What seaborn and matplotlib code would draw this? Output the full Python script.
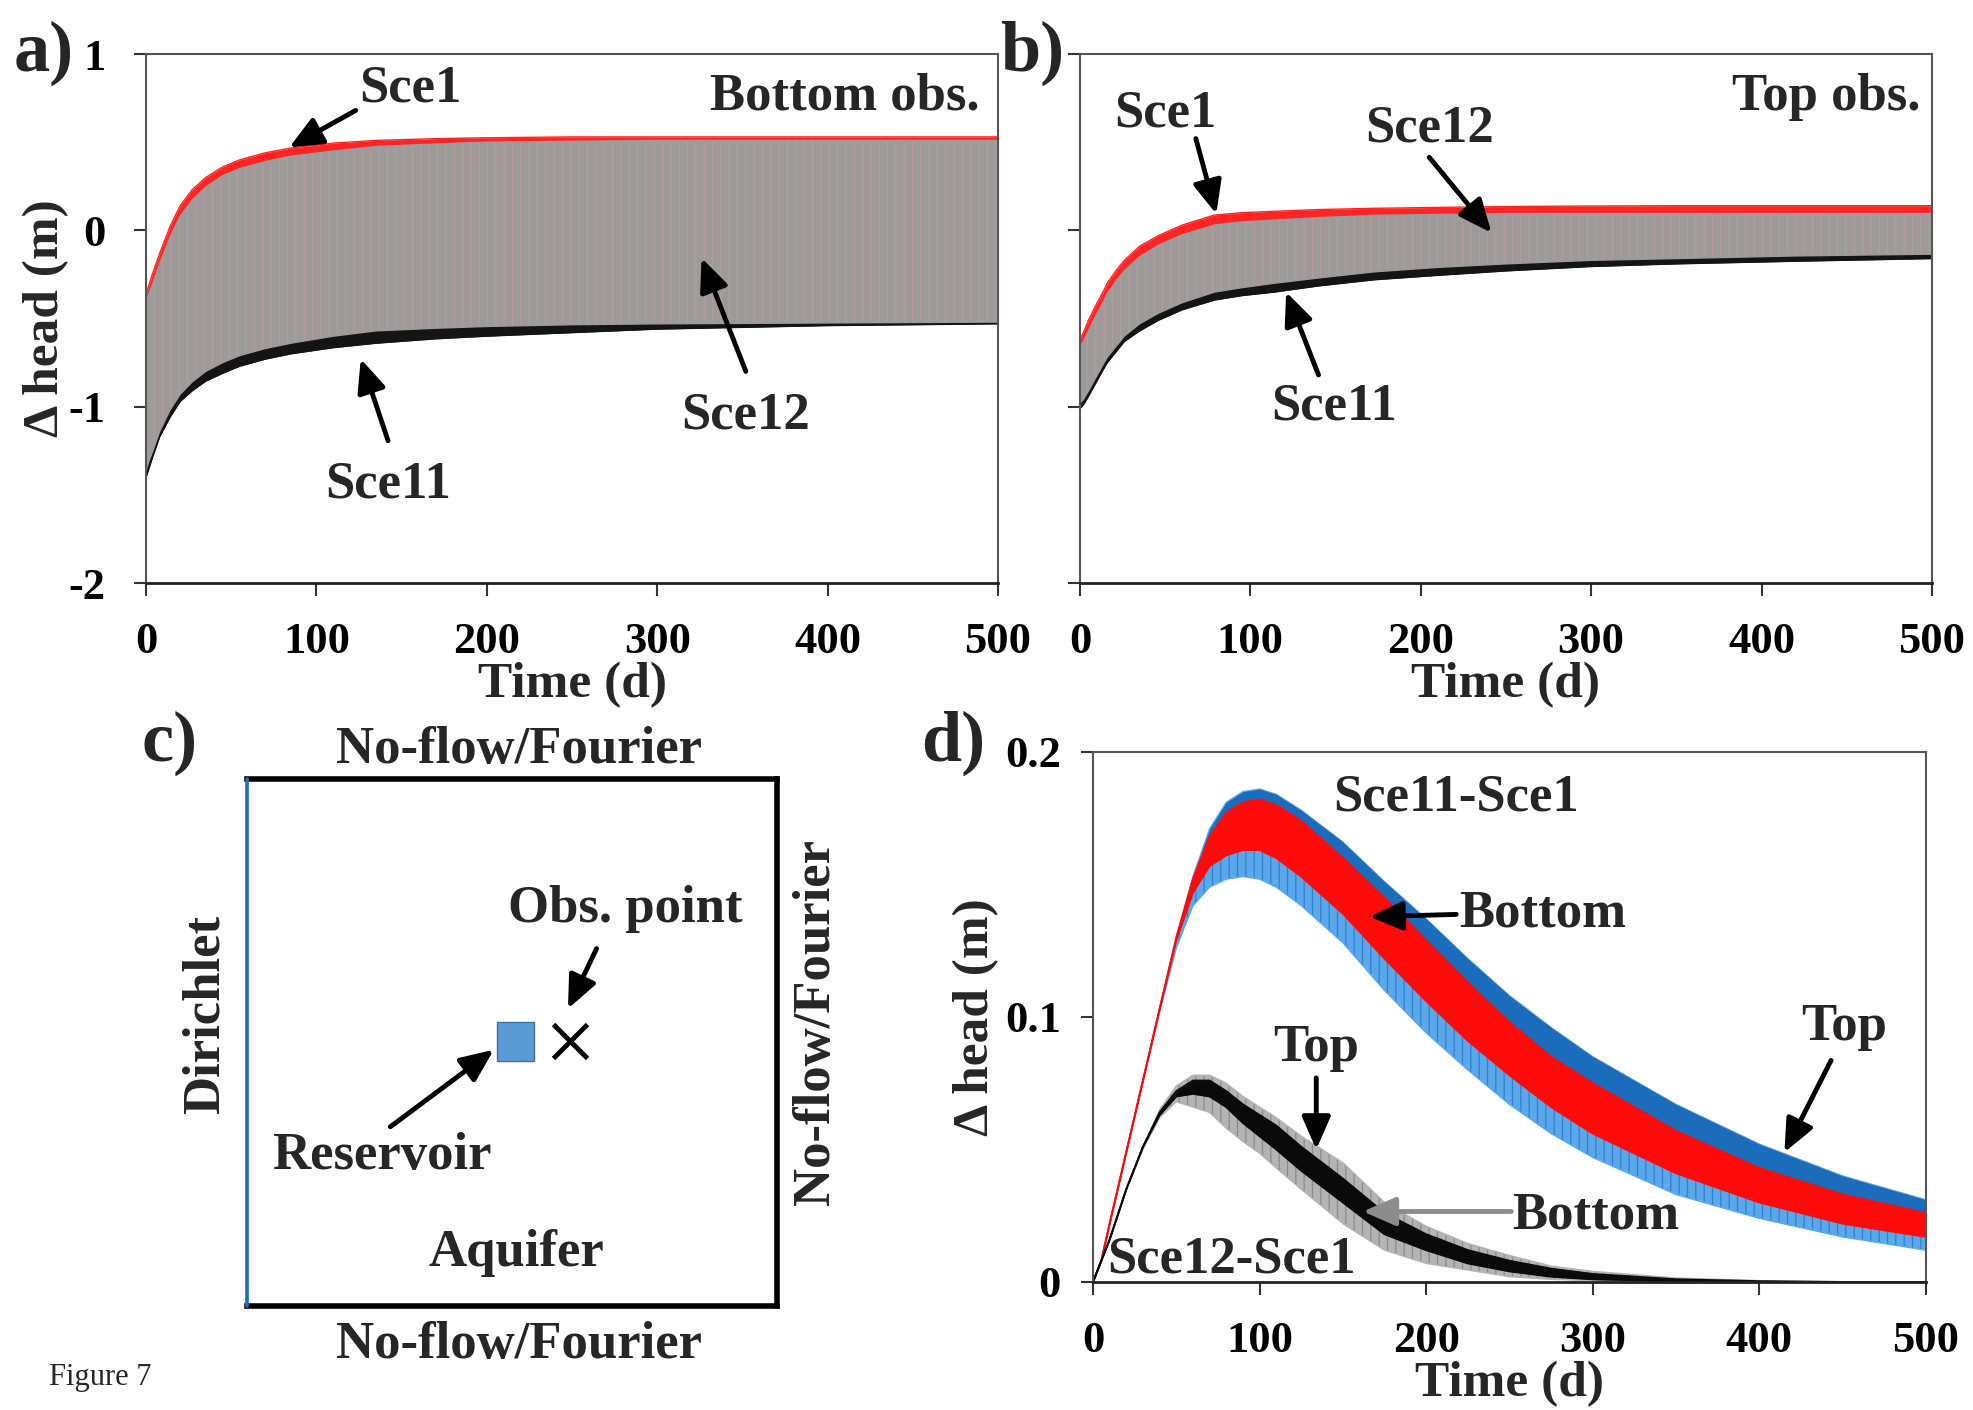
import matplotlib
matplotlib.use('Agg')
import matplotlib.pyplot as plt
from matplotlib.patches import Rectangle
import seaborn as sns

# ---- panel a : bottom observation point, envelopes of head change (m)
t_a = [0, 2, 4, 8, 14, 20, 27, 35, 45, 55, 70, 85, 110, 135, 170, 200, 250, 300, 400, 500]
a_sce1_hi = [-0.36, -0.30, -0.24, -0.13, 0.02, 0.14, 0.23, 0.30, 0.36, 0.40, 0.44, 0.467, 0.495, 0.51, 0.52, 0.525, 0.53, 0.53, 0.53, 0.53]
a_sce1_lo = [-1.34, -1.28, -1.23, -1.12, -1.00, -0.91, -0.84, -0.78, -0.73, -0.69, -0.65, -0.62, -0.58, -0.55, -0.535, -0.525, -0.515, -0.51, -0.505, -0.50]
a_sce11_hi = [-0.42, -0.37, -0.32, -0.21, -0.06, 0.06, 0.15, 0.225, 0.29, 0.33, 0.37, 0.40, 0.43, 0.455, 0.47, 0.48, 0.485, 0.49, 0.49, 0.49]
a_sce11_lo = [-1.40, -1.34, -1.28, -1.17, -1.06, -0.97, -0.91, -0.855, -0.81, -0.77, -0.73, -0.70, -0.665, -0.64, -0.615, -0.60, -0.58, -0.56, -0.54, -0.53]
a_sce12_hi = [-0.40, -0.35, -0.30, -0.19, -0.04, 0.08, 0.17, 0.245, 0.31, 0.35, 0.39, 0.42, 0.45, 0.475, 0.49, 0.50, 0.505, 0.51, 0.51, 0.51]
a_sce12_lo = [-1.36, -1.30, -1.25, -1.14, -1.02, -0.93, -0.86, -0.80, -0.75, -0.71, -0.67, -0.64, -0.60, -0.57, -0.555, -0.545, -0.535, -0.53, -0.525, -0.52]

# ---- panel b : top observation point
t_b = [0, 2, 5, 9, 13, 16, 21, 26, 35, 46, 60, 79, 95, 114, 140, 173, 210, 250, 300, 350, 420, 500]
b_sce1_hi = [-0.62, -0.58, -0.51, -0.43, -0.36, -0.30, -0.23, -0.17, -0.09, -0.03, 0.03, 0.087, 0.10, 0.108, 0.118, 0.125, 0.13, 0.135, 0.138, 0.14, 0.14, 0.14]
b_sce1_lo = [-0.96, -0.94, -0.89, -0.82, -0.75, -0.70, -0.64, -0.58, -0.51, -0.45, -0.39, -0.33, -0.305, -0.28, -0.25, -0.215, -0.19, -0.17, -0.15, -0.14, -0.125, -0.115]
b_sce11_hi = [-0.68, -0.65, -0.59, -0.51, -0.44, -0.38, -0.31, -0.25, -0.17, -0.105, -0.045, 0.01, 0.028, 0.038, 0.052, 0.065, 0.07, 0.075, 0.075, 0.075, 0.075, 0.075]
b_sce11_lo = [-1.01, -0.99, -0.94, -0.87, -0.80, -0.75, -0.69, -0.63, -0.57, -0.51, -0.45, -0.395, -0.37, -0.35, -0.315, -0.28, -0.255, -0.23, -0.205, -0.19, -0.175, -0.16]
b_sce12_hi = [-0.66, -0.63, -0.57, -0.49, -0.42, -0.36, -0.29, -0.23, -0.15, -0.085, -0.025, 0.03, 0.048, 0.058, 0.072, 0.085, 0.09, 0.095, 0.095, 0.095, 0.095, 0.095]
b_sce12_lo = [-0.98, -0.96, -0.91, -0.84, -0.77, -0.72, -0.66, -0.60, -0.53, -0.47, -0.41, -0.35, -0.325, -0.30, -0.27, -0.235, -0.21, -0.19, -0.17, -0.16, -0.145, -0.135]

# ---- panel d : head differences (m)
t_d = [0, 5, 10, 20, 30, 40, 50, 60, 70, 80, 90, 100, 110, 125, 150, 175, 200, 225, 250, 275, 300, 350, 400, 450, 500]
d11_top_hi = [0, 0.008, 0.022, 0.049, 0.076, 0.103, 0.130, 0.153, 0.171, 0.181, 0.185, 0.186, 0.184, 0.178, 0.166, 0.151, 0.137, 0.122, 0.108, 0.096, 0.085, 0.067, 0.052, 0.040, 0.031]
d11_top_lo = [0, 0.008, 0.022, 0.049, 0.076, 0.102, 0.126, 0.142, 0.149, 0.152, 0.153, 0.152, 0.149, 0.142, 0.128, 0.110, 0.094, 0.080, 0.067, 0.056, 0.047, 0.033, 0.024, 0.017, 0.012]
d11_bot_hi = [0, 0.008, 0.022, 0.049, 0.076, 0.103, 0.130, 0.152, 0.168, 0.177, 0.181, 0.182, 0.180, 0.174, 0.160, 0.145, 0.129, 0.113, 0.098, 0.085, 0.075, 0.057, 0.043, 0.033, 0.026]
d11_bot_lo = [0, 0.008, 0.022, 0.049, 0.076, 0.103, 0.129, 0.147, 0.157, 0.161, 0.163, 0.163, 0.160, 0.153, 0.139, 0.122, 0.106, 0.091, 0.078, 0.066, 0.056, 0.041, 0.030, 0.022, 0.017]
d12_top_hi = [0, 0.008, 0.016, 0.035, 0.051, 0.064, 0.072, 0.076, 0.076, 0.072, 0.067, 0.063, 0.059, 0.051, 0.039, 0.026, 0.018, 0.012, 0.008, 0.005, 0.003, 0.001, 0.0003, 0, 0]
d12_top_lo = [0, 0.008, 0.016, 0.035, 0.051, 0.063, 0.070, 0.071, 0.070, 0.066, 0.060, 0.055, 0.050, 0.042, 0.030, 0.018, 0.012, 0.007, 0.004, 0.002, 0.001, 0.0003, 0, 0, 0]
d12_bot_hi = [0, 0.008, 0.016, 0.035, 0.051, 0.065, 0.074, 0.078, 0.078, 0.075, 0.070, 0.066, 0.062, 0.055, 0.045, 0.030, 0.021, 0.0145, 0.010, 0.006, 0.004, 0.0015, 0.0005, 0, 0]
d12_bot_lo = [0, 0.008, 0.016, 0.035, 0.050, 0.062, 0.068, 0.066, 0.064, 0.058, 0.053, 0.0486, 0.043, 0.035, 0.022, 0.012, 0.007, 0.0045, 0.002, 0.001, 0.0005, 0, 0, 0, 0]

x_ticks = [0, 100, 200, 300, 400, 500]

sns.set_theme(style='ticks')
plt.rcParams['font.family'] = ['Liberation Serif', 'DejaVu Serif']
plt.rcParams['font.weight'] = 'bold'
plt.rcParams['axes.labelweight'] = 'bold'
plt.rcParams['axes.unicode_minus'] = False
plt.rcParams['hatch.linewidth'] = 0.9

TICK = 32
LAB = 37
ANN = 38
ARROW = dict(arrowstyle='-|>,head_length=0.8,head_width=0.35', mutation_scale=25,
             lw=3.5, color='black', shrinkA=0, shrinkB=0)


def band(ax, t, hi, lo, color, z=1, lw=1.0, hatch=None, hcolor=None, edges=True):
    ax.fill_between(t, lo, hi, facecolor=color, edgecolor=hcolor or color,
                    hatch=hatch, lw=0, zorder=z)
    if edges:
        for y in (hi, lo):
            sns.lineplot(x=t, y=y, ax=ax, color=color, lw=lw,
                         estimator=None, sort=False, legend=False, zorder=z)


def style(ax):
    for s in ax.spines.values():
        s.set_color('#555555')
        s.set_linewidth(1.5)
        s.set_zorder(20)
    ax.spines['bottom'].set_color('#222222')
    ax.spines['bottom'].set_linewidth(2)
    ax.tick_params(direction='out', length=9, width=1.5, colors='#333333',
                   labelcolor='black', labelsize=TICK)
    ax.tick_params(axis='x', pad=19)
    ax.tick_params(axis='y', pad=20)
    ax.set_xlim(0, 500)
    ax.set_xticks(x_ticks)
    ax.set_xticklabels([str(v) for v in x_ticks])
    ax.set_xlabel('Time (d)', fontsize=LAB, labelpad=0)
    ax.grid(False)


def arrow(ax, tail, tip, color='black'):
    props = dict(ARROW)
    props['color'] = color
    ax.annotate('', xy=tip, xytext=tail, arrowprops=props, zorder=10)


def head_panel(ax, t, s1, s11, s12):
    band(ax, t, s11[0], s11[1], '#141414', z=1)
    band(ax, t, s1[0], s1[1], '#ff2424', z=2)
    band(ax, t, s12[0], s12[1], '#9d9a9a', z=3, hatch='||', hcolor='#b89c9c')


fig = plt.figure(figsize=(19.74, 14.10), dpi=100)

# ---------------- a)
ax_a = fig.add_axes([0.074, 0.5865, 0.4316, 0.3752])
head_panel(ax_a, t_a, (a_sce1_hi, a_sce1_lo), (a_sce11_hi, a_sce11_lo), (a_sce12_hi, a_sce12_lo))
style(ax_a)
ax_a.set_ylim(-2, 1)
ax_a.set_yticks([-2, -1, 0, 1])
ax_a.set_yticklabels(['-2', '-1', '0', '1'])
ax_a.set_ylabel('\u0394 head (m)', fontsize=LAB, labelpad=0)
ax_a.text(489, 0.757, 'Bottom obs.', fontsize=ANN, ha='right', va='center')
ax_a.text(155, 0.807, 'Sce1', fontsize=ANN, ha='center', va='center')
arrow(ax_a, (123, 0.68), (84, 0.47))
ax_a.text(352, -1.05, 'Sce12', fontsize=ANN, ha='center', va='center')
arrow(ax_a, (352, -0.80), (326, -0.157))
ax_a.text(142, -1.443, 'Sce11', fontsize=ANN, ha='center', va='center')
arrow(ax_a, (142, -1.193), (126, -0.729))

# ---------------- b)
ax_b = fig.add_axes([0.5471, 0.5865, 0.4316, 0.3752])
head_panel(ax_b, t_b, (b_sce1_hi, b_sce1_lo), (b_sce11_hi, b_sce11_lo), (b_sce12_hi, b_sce12_lo))
style(ax_b)
ax_b.set_ylim(-2, 1)
ax_b.set_yticks([-2, -1, 0, 1])
ax_b.set_yticklabels([])
ax_b.text(493, 0.757, 'Top obs.', fontsize=ANN, ha='right', va='center')
ax_b.text(50, 0.664, 'Sce1', fontsize=ANN, ha='center', va='center')
arrow(ax_b, (68, 0.52), (80, 0.093))
ax_b.text(205, 0.579, 'Sce12', fontsize=ANN, ha='center', va='center')
arrow(ax_b, (205, 0.414), (241.5, -0.014))
ax_b.text(149, -1.0, 'Sce11', fontsize=ANN, ha='center', va='center')
arrow(ax_b, (140, -0.82), (121, -0.35))

# ---------------- d)
ax_d = fig.add_axes([0.5537, 0.0908, 0.422, 0.3759])
band(ax_d, t_d, d11_top_hi, d11_top_lo, '#5aa8ea', z=1, hatch='||', hcolor='#2f7fd0')
ax_d.fill_between(t_d, d11_bot_hi, d11_top_hi, color='#1c6cbc', lw=0, zorder=1.5)
band(ax_d, t_d, d11_bot_hi, d11_bot_lo, '#ff0a0a', z=2, lw=1.4)
band(ax_d, t_d, d12_bot_hi, d12_bot_lo, '#b4b4b4', z=3, hatch='||', hcolor='#8a8a8a')
band(ax_d, t_d, d12_top_hi, d12_top_lo, '#0a0a0a', z=4, lw=1.4)
style(ax_d)
ax_d.set_ylim(0, 0.2)
ax_d.set_yticks([0, 0.1, 0.2])
ax_d.set_yticklabels(['0', '0.1', '0.2'])
ax_d.tick_params(axis='y', pad=14)
ax_d.set_ylabel('\u0394 head (m)', fontsize=LAB, labelpad=4)
ax_d.text(218, 0.183, 'Sce11-Sce1', fontsize=ANN, ha='center', va='center')
ax_d.text(270, 0.139, 'Bottom', fontsize=ANN, ha='center', va='center')
arrow(ax_d, (218, 0.1387), (166, 0.1378))
ax_d.text(451, 0.0964, 'Top', fontsize=ANN, ha='center', va='center')
arrow(ax_d, (443, 0.0836), (415, 0.0489))
ax_d.text(134, 0.0884, 'Top', fontsize=ANN, ha='center', va='center')
arrow(ax_d, (134, 0.077), (134, 0.050))
ax_d.text(302, 0.0252, 'Bottom', fontsize=ANN, ha='center', va='center')
arrow(ax_d, (251, 0.0266), (162, 0.0266), color='#8c8c8c')
ax_d.text(83, 0.0086, 'Sce12-Sce1', fontsize=ANN, ha='center', va='center', zorder=11)

# ---------------- c) schematic
ax_c = fig.add_axes([0.125, 0.0738, 0.2685, 0.3738])
ax_c.set_xlim(0, 1)
ax_c.set_ylim(0, 1)
ax_c.axis('off')
for xs, ys in [([0, 1], [1, 1]), ([1, 1], [1, 0]), ([0, 1], [0, 0])]:
    ax_c.plot(xs, ys, color='black', lw=4, solid_capstyle='projecting', clip_on=False)
ax_c.plot([0, 0], [0, 1], color='#1f6fbf', lw=2.6, clip_on=False)
ax_c.add_patch(Rectangle((0.507 - 0.0345, 0.502 - 0.037), 0.069, 0.074,
                         facecolor='#5b9bd5', edgecolor='#41719c', lw=1))
ax_c.plot([0.610], [0.502], marker='x', ms=25, mew=3.5, color='black')
ax_c.text(0.513, 1.055, 'No-flow/Fourier', fontsize=ANN, ha='center', va='center')
ax_c.text(0.513, -0.074, 'No-flow/Fourier', fontsize=ANN, ha='center', va='center')
ax_c.text(-0.078, 0.553, 'Dirichlet', fontsize=ANN, ha='center', va='center', rotation=90)
ax_c.text(1.074, 0.538, 'No-flow/Fourier', fontsize=ANN, ha='center', va='center', rotation=90)
ax_c.text(0.715, 0.754, 'Obs. point', fontsize=ANN, ha='center', va='center')
arrow(ax_c, (0.660, 0.678), (0.606, 0.564))
ax_c.text(0.254, 0.285, 'Reservoir', fontsize=ANN, ha='center', va='center')
arrow(ax_c, (0.271, 0.340), (0.466, 0.486))
ax_c.text(0.508, 0.100, 'Aquifer', fontsize=ANN, ha='center', va='center')

# panel letters
for lbl, x, y in [('a)', 0.0223, 0.962), ('b)', 0.523, 0.962), ('c)', 0.086, 0.473), ('d)', 0.483, 0.473)]:
    fig.text(x, y, lbl, fontsize=52, ha='center', va='center')
fig.text(0.051, 0.023, 'Figure 7', fontsize=22, fontweight='normal', ha='center', va='center')

fig.savefig('out.png', dpi=100)
